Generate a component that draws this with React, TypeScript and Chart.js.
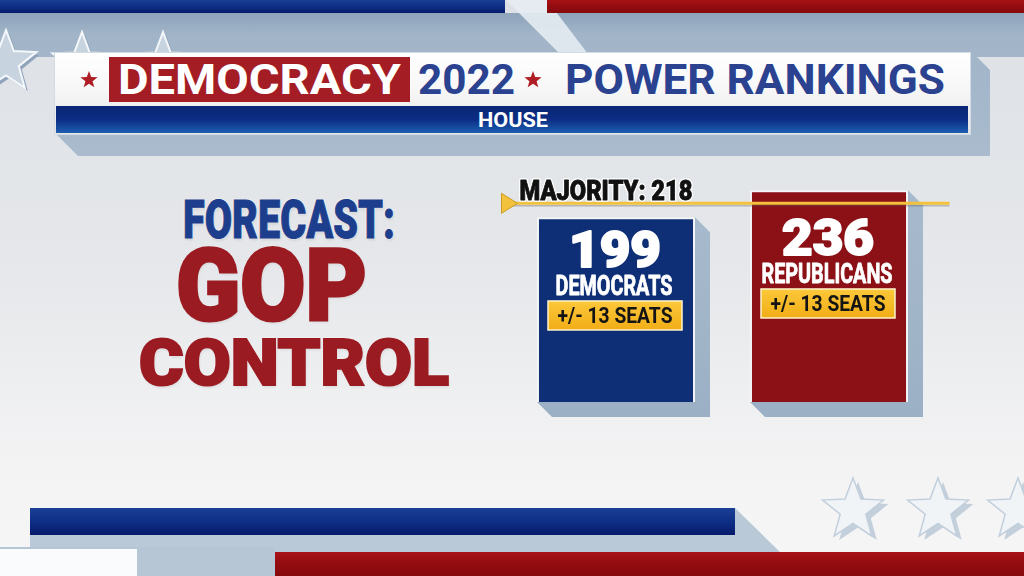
import React, { useEffect, useLayoutEffect, useRef } from "react";
import { Chart, registerables } from "chart.js";

Chart.register(...registerables);

// ---------- data ----------
const PARTIES = ["DEMOCRATS", "REPUBLICANS"];
const SEATS = [199, 236];
const MARGINS = [13, 13];
const MAJORITY = 218;

// ---------- style ----------
const BAR_COLORS = ["#0e2f76", "#8b1116"];
const FONT = "Roboto, 'Liberation Sans', Arial, sans-serif";
const SCALE_MIN = -54;
const SCALE_MAX = 291;
const CAP = 0.711; // Roboto cap-height ratio

function drawFit(
  ctx: CanvasRenderingContext2D,
  text: string,
  x: number,
  capTop: number,
  capH: number,
  o: { width?: number; scale?: number; align: "left" | "center"; weight: number; fill: string; stroke?: string; strokeW?: number; bold?: number }
) {
  const size = capH / CAP;
  ctx.save();
  ctx.font = `${o.weight} ${size}px ${FONT}`;
  const natural = ctx.measureText(text).width;
  const sx = o.width ? o.width / natural : o.scale ?? 1;
  const w = natural * sx;
  const left = o.align === "center" ? x - w / 2 : x;
  ctx.translate(left, capTop + capH);
  ctx.scale(sx, 1);
  ctx.textAlign = "left";
  ctx.textBaseline = "alphabetic";
  ctx.lineJoin = "round";
  if (o.stroke) {
    ctx.lineWidth = o.strokeW ?? 3;
    ctx.strokeStyle = o.stroke;
    ctx.strokeText(text, 0, 0);
  }
  ctx.fillStyle = o.fill;
  ctx.fillText(text, 0, 0);
  if (o.bold) {
    ctx.lineWidth = o.bold;
    ctx.strokeStyle = o.fill;
    ctx.strokeText(text, 0, 0);
  }
  ctx.restore();
}

const housePlugin = {
  id: "house",
  beforeDatasetsDraw(chart: any) {
    const ctx: CanvasRenderingContext2D = chart.ctx;
    const meta = chart.getDatasetMeta(0);
    meta.data.forEach((bar: any) => {
      const { x, y, base, width } = bar.getProps(["x", "y", "base", "width"], true);
      const l = x - width / 2;
      const r = x + width / 2;
      const d = 15;
      ctx.save();
      const g = ctx.createLinearGradient(0, y, 0, base + d);
      g.addColorStop(0, "#a7bacd");
      g.addColorStop(1, "#9cb0c5");
      ctx.fillStyle = g;
      ctx.beginPath();
      ctx.moveTo(r, y);
      ctx.lineTo(r + d, y + d);
      ctx.lineTo(r + d, base + d);
      ctx.lineTo(l + d, base + d);
      ctx.lineTo(l, base);
      ctx.closePath();
      ctx.fill();
      ctx.restore();
    });
  },
  afterDatasetsDraw(chart: any) {
    const ctx: CanvasRenderingContext2D = chart.ctx;
    const area = chart.chartArea;
    const majY = chart.scales.y.getPixelForValue(MAJORITY);
    const meta = chart.getDatasetMeta(0);
    meta.data.forEach((bar: any, i: number) => {
      const { x, y } = bar.getProps(["x", "y"], true);
      const anchor = y + 21.5 + 0.556 * (majY - y);
      drawFit(ctx, String(SEATS[i]), x - 1, anchor + 0.5, 36, { width: 92, align: "center", weight: 900, fill: "#ffffff", bold: 2 });
      drawFit(ctx, PARTIES[i], x - 2, anchor + 45, 19, { scale: 0.74, align: "center", weight: 700, fill: "#ffffff", bold: 0.8 });
      const bw = 134;
      const bh = 29;
      const bt = anchor + 70;
      const bl = x - 1 - bw / 2;
      ctx.save();
      const g = ctx.createLinearGradient(0, bt, 0, bt + bh);
      g.addColorStop(0, "#fcc83a");
      g.addColorStop(1, "#f1ad17");
      ctx.fillStyle = g;
      ctx.fillRect(bl, bt, bw, bh);
      ctx.strokeStyle = "#fff4cc";
      ctx.lineWidth = 1.5;
      ctx.strokeRect(bl, bt, bw, bh);
      ctx.restore();
      drawFit(ctx, `+/- ${MARGINS[i]} SEATS`, x - 1, bt + 6.5, 16, { width: 115, align: "center", weight: 700, fill: "#141414" });
    });

    // majority line
    const x0 = area.left - 8;
    const x1 = area.right + 14;
    ctx.save();
    ctx.strokeStyle = "rgba(90,90,90,0.35)";
    ctx.lineWidth = 1.5;
    ctx.beginPath();
    ctx.moveTo(x0 + 10, majY + 2.5);
    ctx.lineTo(x1, majY + 2.5);
    ctx.stroke();
    ctx.strokeStyle = "#f2c23c";
    ctx.lineWidth = 3;
    ctx.beginPath();
    ctx.moveTo(x0 + 10, majY);
    ctx.lineTo(x1, majY);
    ctx.stroke();
    ctx.fillStyle = "#f2c23c";
    ctx.strokeStyle = "#c99b22";
    ctx.lineWidth = 1;
    ctx.beginPath();
    ctx.moveTo(x0, majY - 10);
    ctx.lineTo(x0 + 16, majY);
    ctx.lineTo(x0, majY + 10);
    ctx.closePath();
    ctx.fill();
    ctx.stroke();
    ctx.restore();
    drawFit(ctx, `MAJORITY: ${MAJORITY}`, area.left + 10, majY - 22, 19, {
      width: 173,
      align: "left",
      weight: 900,
      fill: "#111111",
      stroke: "#ffffff",
      strokeW: 3.5,
      bold: 0.8,
    });
  },
};

function Fit(props: {
  x: number;
  capTop: number;
  capH: number;
  width: number;
  color: string;
  weight?: number;
  align?: "left" | "center";
  shadow?: string;
  stroke?: number;
  children: React.ReactNode;
}) {
  const ref = useRef<HTMLDivElement>(null);
  const size = props.capH / CAP;
  useLayoutEffect(() => {
    const el = ref.current;
    if (!el) return;
    el.style.transform = "none";
    const w = el.getBoundingClientRect().width;
    el.style.transform = `scaleX(${props.width / w})`;
  });
  const left = props.align === "center" ? props.x - props.width / 2 : props.x;
  return (
    <div
      ref={ref}
      style={{
        position: "absolute",
        left,
        top: props.capTop - 0.131 * size,
        fontFamily: FONT,
        fontWeight: props.weight ?? 700,
        fontSize: size,
        lineHeight: `${size}px`,
        whiteSpace: "nowrap",
        color: props.color,
        transformOrigin: "left top",
        textShadow: props.shadow,
        WebkitTextStroke: props.stroke ? `${props.stroke}px ${props.color}` : undefined,
      }}
    >
      {props.children}
    </div>
  );
}

function starPts(cx: number, cy: number, R: number, k = 0.42) {
  const pts: string[] = [];
  for (let i = 0; i < 10; i++) {
    const a = -Math.PI / 2 + (i * Math.PI) / 5;
    const rad = i % 2 === 0 ? R : R * k;
    pts.push(`${(cx + rad * Math.cos(a)).toFixed(1)},${(cy + rad * Math.sin(a)).toFixed(1)}`);
  }
  return pts.join(" ");
}

function Backdrop() {
  const topStars = [
    [6, 62, 32],
    [82, 63, 31],
    [163, 63, 31],
  ];
  const bottomStars = [
    [853, 510, 32],
    [938, 510, 32],
    [1018, 510, 32],
  ];
  return (
    <svg width={1024} height={576} style={{ position: "absolute", left: 0, top: 0 }}>
      <defs>
        <linearGradient id="bg" x1="0" y1="0" x2="0" y2="1">
          <stop offset="0" stopColor="#dde1e6" />
          <stop offset="0.45" stopColor="#e5e7ea" />
          <stop offset="0.8" stopColor="#f3f3f4" />
          <stop offset="1" stopColor="#f6f6f6" />
        </linearGradient>
        <linearGradient id="band" x1="0" y1="0" x2="0" y2="1">
          <stop offset="0" stopColor="#8ea4bb" />
          <stop offset="0.15" stopColor="#a1b4c8" />
          <stop offset="1" stopColor="#a9bbcd" />
        </linearGradient>
        <linearGradient id="blueBar" x1="0" y1="0" x2="0" y2="1">
          <stop offset="0" stopColor="#1a3f96" />
          <stop offset="0.6" stopColor="#0c2b82" />
          <stop offset="1" stopColor="#06196a" />
        </linearGradient>
        <linearGradient id="redBar" x1="0" y1="0" x2="0" y2="1">
          <stop offset="0" stopColor="#a81217" />
          <stop offset="0.5" stopColor="#930c10" />
          <stop offset="1" stopColor="#860a0e" />
        </linearGradient>
        <linearGradient id="hdr" x1="0" y1="0" x2="0" y2="1">
          <stop offset="0" stopColor="#ffffff" />
          <stop offset="0.45" stopColor="#f7f7f7" />
          <stop offset="1" stopColor="#e4e4e4" />
        </linearGradient>
        <linearGradient id="houseBar" x1="0" y1="0" x2="0" y2="1">
          <stop offset="0" stopColor="#0a2674" />
          <stop offset="0.5" stopColor="#0b2d84" />
          <stop offset="1" stopColor="#1e5fb2" />
        </linearGradient>
      </defs>
      <rect x={0} y={0} width={1024} height={576} fill="url(#bg)" />
      {/* top band and header shadow */}
      <polygon points="0,13 1024,13 1024,57 977,57 990,70 990,156 78,156 55,133 55,57 0,57" fill="url(#band)" />
      <polygon points="506,0 547,0 588,54 560,54" fill="#e6ecf2" opacity={0.9} />
      <rect x={0} y={0} width={505} height={13} fill="url(#blueBar)" />
      <rect x={547} y={0} width={477} height={13} fill="url(#redBar)" />
      {topStars.map(([cx, cy, R], i) => (
        <g key={"ts" + i}>
          <polygon points={starPts(cx + 3, cy + 3, R)} fill="#8fa4ba" />
          <polygon points={starPts(cx, cy, R)} fill="#c7d3df" stroke="#f5f8fb" strokeWidth={2} />
        </g>
      ))}
      {/* header */}
      <rect x={54.5} y={52.5} width={916} height={82} fill="url(#hdr)" stroke="#d3dbe3" strokeWidth={1} />
      <rect x={109} y={57} width={301} height={45} fill="#a51d24" />
      <rect x={56} y={106} width={912} height={27} fill="url(#houseBar)" />
      <polygon points={starPts(89, 80, 9)} fill="#b01e25" />
      <polygon points={starPts(533, 80, 9)} fill="#b01e25" />
      {/* bottom */}
      <polygon points="30,520 735,520 735,508 780,552 30,552" fill="#bac9d7" />
      <rect x={0} y={547} width={275} height={29} fill="#b6c6d5" />
      <rect x={0} y={549} width={137} height={27} fill="#fafbfc" />
      <rect x={275} y={552} width={749} height={24} fill="url(#redBar)" />
      <rect x={30} y={508} width={705} height={27} fill="url(#blueBar)" />
      {bottomStars.map(([cx, cy, R], i) => (
        <g key={"bs" + i}>
          <polygon points={starPts(cx + 5, cy + 4, R)} fill="#c3cfdb" />
          <polygon points={starPts(cx, cy, R)} fill="#f1f4f7" stroke="#c2cfdc" strokeWidth={1.5} />
        </g>
      ))}
    </svg>
  );
}

export default function App() {
  const canvasRef = useRef<HTMLCanvasElement>(null);

  useEffect(() => {
    document.body.style.margin = "0";
    const canvas = canvasRef.current;
    if (!canvas) return;
    const chart = new Chart(canvas, {
      type: "bar",
      data: {
        labels: PARTIES,
        datasets: [
          {
            data: SEATS,
            backgroundColor: BAR_COLORS,
            borderColor: "#f4f5f7",
            borderWidth: 2,
            base: SCALE_MIN,
            barPercentage: 0.742,
            categoryPercentage: 1,
          } as any,
        ],
      },
      options: {
        responsive: false,
        animation: false,
        layout: { padding: { left: 509.5, right: 88.5, top: 150, bottom: 174 } },
        plugins: { legend: { display: false }, tooltip: { enabled: false } },
        scales: {
          x: { display: false },
          y: { display: false, min: SCALE_MIN, max: SCALE_MAX },
        },
      },
      plugins: [housePlugin as any],
    });
    return () => chart.destroy();
  }, []);

  const glow = "0 0 2px #ffffff, 0 0 3px rgba(255,255,255,0.9), 1px 2px 3px rgba(0,0,0,0.12)";

  return (
    <div style={{ position: "fixed", left: 0, top: 0, width: 1024, height: 576, overflow: "hidden" }}>
      <Backdrop />
      <Fit x={118} capTop={65} capH={30} width={283} color="#ffffff">DEMOCRACY</Fit>
      <Fit x={418} capTop={65} capH={30} width={97} color="#2a4290">2022</Fit>
      <Fit x={565} capTop={65} capH={30} width={380} color="#2a4290">POWER RANKINGS</Fit>
      <Fit x={513} capTop={112} capH={15} width={70} color="#ffffff" align="center">HOUSE</Fit>
      <Fit x={183} capTop={200.5} capH={37.5} width={212} color="#1d3e8c" weight={900} stroke={1} shadow={glow}>FORECAST:</Fit>
      <Fit x={176} capTop={249.5} capH={71} width={191} color="#9a1b21" weight={900} stroke={3} shadow={glow}>GOP</Fit>
      <Fit x={139} capTop={339} capH={46.5} width={310} color="#9a1b21" weight={900} stroke={2.2} shadow={glow}>CONTROL</Fit>
      <canvas
        ref={canvasRef}
        width={1024}
        height={576}
        style={{ position: "absolute", left: 0, top: 0, width: 1024, height: 576 }}
      />
    </div>
  );
}
